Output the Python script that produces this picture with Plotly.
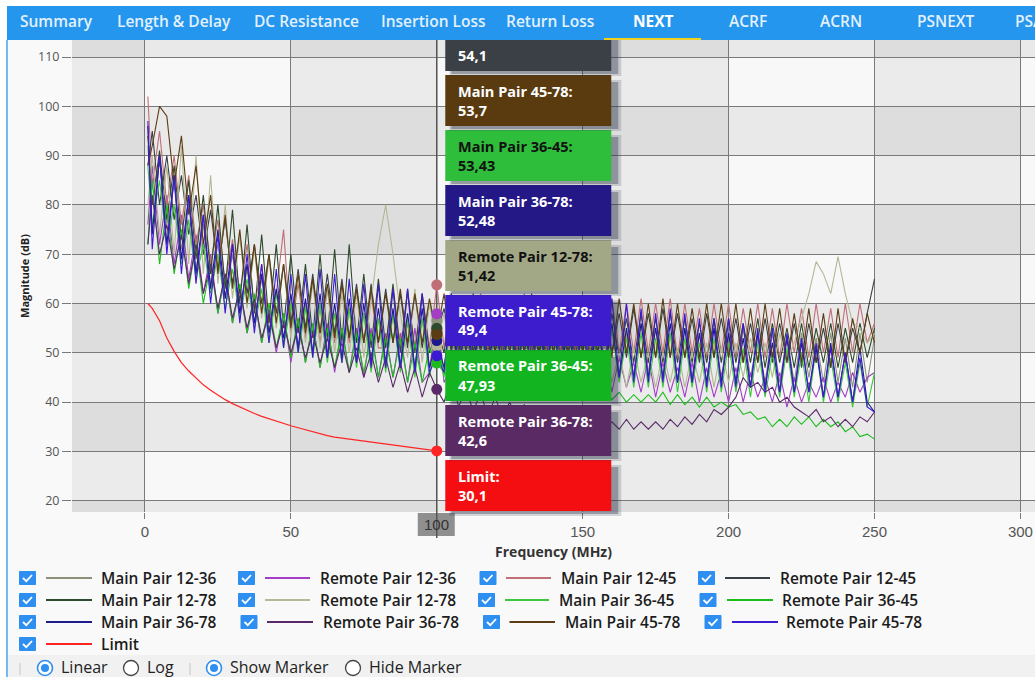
import plotly.graph_objects as go

# ---------------- data ----------------
FREQ = [1, 2.5, 5, 7.5, 10, 12.5, 15, 17.5, 20, 22.5,
        25, 27.5, 30, 32.5, 35, 37.5, 40, 42.5, 45, 47.5,
        50, 52.5, 55, 57.5, 60, 62.5, 65, 67.5, 70, 72.5,
        75, 77.5, 80, 82.5, 85, 87.5, 90, 92.5, 95, 97.5,
        100, 102.5, 105, 107.5, 110, 112.5, 115, 117.5, 120, 122.5,
        125, 127.5, 130, 132.5, 135, 137.5, 140, 142.5, 145, 147.5,
        150, 152.5, 155, 157.5, 160, 162.5, 165, 167.5, 170, 172.5,
        175, 177.5, 180, 182.5, 185, 187.5, 190, 192.5, 195, 197.5,
        200, 202.5, 205, 207.5, 210, 212.5, 215, 217.5, 220, 222.5,
        225, 227.5, 230, 232.5, 235, 237.5, 240, 242.5, 245, 247.5,
        250]

MAIN_12_36 = [92, 80, 89, 76, 84, 71, 80, 67, 76, 64,
              72, 61, 70, 58, 67, 56, 65, 54, 63, 52,
              61, 51, 60, 50, 59, 49, 58, 48, 59, 48,
              58, 47, 57, 47, 58, 47, 56, 46, 57, 47,
              56.5, 46, 56, 46, 57, 45, 56, 46, 55, 45,
              56, 45, 55, 46, 56, 45, 55, 45, 56, 45,
              55, 45, 56, 46, 55, 45, 54, 45, 56, 46,
              55, 45, 54, 44, 55, 45, 54, 44, 55, 45,
              54, 44, 55, 45, 53, 44, 54, 44, 53, 44,
              54, 45, 53, 44, 54, 44, 53, 43, 54, 44,
              53]

REMOTE_12_36 = [76, 88, 72, 82, 68, 78, 65, 74, 62, 70,
                58, 66, 56, 63, 54, 61, 52, 59, 50, 58,
                48, 57, 48, 56, 47, 56, 46, 55, 46, 55,
                45, 55, 45, 54, 45, 54, 44, 55, 44, 46,
                57.9, 44, 47, 54, 43, 53, 43, 53, 43, 52,
                42, 53, 42, 52, 42, 52, 42, 51, 42, 52,
                42, 51, 43, 50, 42, 49, 43, 48, 42, 49,
                41, 48, 42, 47, 41, 48, 40, 47, 41, 46,
                40, 47, 40, 46, 41, 45, 40, 46, 39, 45,
                40, 44, 41, 45, 40, 44, 41, 46, 42, 45,
                46]

MAIN_12_45 = [102, 84, 95, 80, 90, 76, 86, 72, 80, 68,
              77, 64, 73, 62, 72, 59, 68, 56, 62, 75,
              54, 64, 53, 65, 52, 63, 52, 64, 52, 63,
              52, 62, 51, 51, 63, 51, 62, 51, 62, 51,
              63.8, 51, 62, 51, 61, 50, 62, 50, 61, 50,
              61, 50, 62, 50, 61, 50, 60, 50, 61, 50,
              61, 50, 60, 51, 61, 50, 60, 50, 61, 50,
              60, 50, 61, 49, 60, 50, 59, 49, 60, 50,
              60, 49, 59, 50, 60, 49, 59, 49, 60, 50,
              59, 49, 60, 50, 59, 49, 60, 50, 60, 52,
              56]

REMOTE_12_45 = [88, 95, 80, 90, 77, 86, 74, 82, 70, 79,
                67, 77, 64, 74, 62, 72, 60, 70, 58, 68,
                56, 67, 55, 66, 54, 66, 54, 65, 53, 64,
                52, 64, 52, 63, 52, 62, 51, 62, 51, 60,
                54.1, 59, 50, 60, 50, 59, 50, 58, 50, 59,
                50, 58, 50, 59, 49, 58, 50, 58, 49, 59,
                50, 58, 49, 60, 50, 58, 49, 59, 49, 58,
                49, 59, 49, 58, 49, 57, 48, 58, 49, 57,
                49, 57, 48, 56, 48, 57, 48, 56, 48, 56,
                47, 56, 48, 55, 47, 56, 48, 55, 50, 58,
                65]

MAIN_12_78 = [94, 80, 91, 77, 88, 73, 85, 69, 82, 66,
              80, 63, 79, 60, 76, 58, 74, 56, 72, 55,
              70, 54, 68, 53, 70, 53, 71, 52, 72, 52,
              66, 51, 65, 51, 64, 50, 63, 50, 62, 50,
              55, 50, 60, 50, 59, 50, 58, 49, 59, 49,
              58, 49, 59, 49, 58, 49, 57, 49, 58, 49,
              58, 49, 57, 48, 58, 49, 57, 48, 58, 48,
              57, 48, 58, 48, 57, 48, 56, 48, 57, 48,
              57, 48, 56, 48, 57, 47, 56, 48, 55, 47,
              56, 47, 55, 48, 56, 47, 55, 48, 56, 49,
              55]

REMOTE_12_78 = [80, 90, 74, 88, 70, 92, 68, 90, 66, 86,
                64, 80, 61, 74, 59, 71, 57, 69, 55, 68,
                53, 66, 52, 64, 51, 63, 50, 62, 50, 62,
                49, 60, 72, 80, 70, 58, 49, 63, 48, 60,
                51.42, 58, 47, 57, 47, 57, 46, 56, 46, 56,
                46, 56, 45, 56, 45, 55, 45, 56, 45, 55,
                45, 55, 44, 52, 44, 50, 43, 51, 44, 50,
                43, 50, 44, 51, 43, 50, 44, 52, 43, 51,
                44, 52, 45, 53, 46, 52, 45, 54, 48, 52,
                57, 62, 68.5, 66, 62, 69.5, 62, 56, 55, 52,
                54]

MAIN_36_45 = [88, 76, 85, 72, 80, 68, 77, 65, 72, 62,
              70, 59, 67, 57, 65, 55, 63, 52, 62, 51,
              60, 50, 59, 49, 60, 48, 58, 48, 59, 47,
              58, 46, 57, 46, 58, 46, 57, 45, 57, 45,
              53.43, 45, 57, 45, 56, 44, 57, 44, 56, 44,
              56, 44, 55, 44, 56, 44, 55, 44, 56, 44,
              55, 44, 54, 45, 55, 44, 53, 43, 54, 43,
              53, 43, 54, 42, 53, 43, 52, 42, 53, 42,
              52, 42, 51, 41, 52, 41, 50, 41, 51, 41,
              50, 40, 51, 40, 49, 40, 48, 39, 48, 39,
              46]

REMOTE_36_45 = [72, 85, 68, 80, 66, 75, 63, 72, 60, 68,
                58, 66, 56, 64, 54, 62, 52, 60, 51, 58,
                49, 57, 48, 56, 47, 55, 47, 55, 46, 54,
                46, 54, 45, 53, 45, 53, 44, 52, 44, 51,
                47.93, 46, 45, 47, 44, 46, 44, 45, 43, 45,
                43, 45, 43, 44, 42, 44, 42, 43, 42, 43,
                42, 43, 41, 42.5, 40.5, 42, 40, 41.5, 40, 41.5,
                40, 42, 39.5, 41.5, 39.5, 41, 39, 41, 39, 40,
                39, 39.5, 37.5, 38, 36.5, 37, 35, 36.5, 35, 37,
                35.5, 37, 35, 36.5, 35, 36, 34, 35, 33, 33.5,
                32.5]

MAIN_36_78 = [96, 74, 90, 72, 86, 69, 82, 66, 78, 63,
              75, 61, 72, 58, 68, 56, 66, 54, 63, 53,
              62, 51, 61, 50, 62, 49, 60, 49, 61, 48,
              60, 48, 59, 48, 59, 47, 58, 47, 59, 47,
              52.48, 47, 58, 46, 57, 46, 58, 46, 57, 46,
              57, 46, 56, 46, 57, 46, 56, 45, 56, 45,
              56, 45, 57, 46, 56, 45, 55, 45, 56, 45,
              55, 45, 56, 44, 55, 44, 54, 44, 55, 44,
              54, 44, 53, 43, 54, 43, 52, 42, 53, 42,
              52, 42, 51, 41, 52, 41, 50, 40, 51, 40,
              38]

REMOTE_36_78 = [72, 82, 70, 76, 67, 74, 64, 72, 62, 68,
                59, 66, 57, 63, 55, 61, 53, 58, 51, 56,
                50, 55, 49, 54, 48, 53, 47, 52, 46, 51,
                45, 50, 44, 49, 43, 48, 42, 47, 41, 46,
                42.6, 40, 45, 39, 43, 38, 42, 37, 41, 37,
                40, 36.5, 39.5, 36, 39, 36, 38.5, 35.5, 38, 35,
                37.5, 35, 36.5, 34.5, 36, 34.5, 36.5, 34.5, 36, 34.5,
                36, 34.5, 36.5, 35, 37, 35.5, 37.5, 36, 38.5, 37.5,
                39, 41, 45, 43, 44, 42, 43, 40, 41, 39,
                38, 37, 38.5, 36, 37, 35, 36.5, 35, 37, 36,
                38]

MAIN_45_78 = [88, 92, 100, 98, 84, 94, 78, 88, 72, 82,
              66, 78, 63, 75, 60, 72, 58, 70, 56, 68,
              55, 66, 54, 65, 54, 64, 53, 64, 53, 63,
              52, 63, 52, 62, 52, 63, 52, 62, 52, 61,
              53.7, 62, 51, 61, 51, 62, 51, 61, 50, 61,
              50, 61, 50, 62, 50, 61, 50, 60, 50, 61,
              50, 61, 50, 60, 49, 61, 50, 60, 49, 60,
              49, 61, 49, 60, 49, 59, 49, 60, 49, 60,
              49, 60, 48, 59, 48, 60, 49, 59, 48, 58,
              48, 59, 48, 58, 47, 59, 48, 57, 50, 58,
              52]

REMOTE_45_78 = [97, 71, 90, 70, 86, 66, 82, 64, 78, 60,
                74, 58, 72, 56, 70, 54, 68, 52, 67, 51,
                66, 50, 66, 49, 67, 49, 66, 48, 65, 48,
                64, 47, 64, 47, 63, 47, 63, 46, 62, 46,
                49.4, 46, 62, 46, 61, 46, 61, 45, 60, 45,
                61, 45, 60, 45, 61, 45, 60, 45, 61, 45,
                60, 45, 61, 45, 61, 45, 60, 44, 59, 44,
                58, 44, 59, 44, 58, 44, 57, 43, 57, 43,
                57, 43, 56, 43, 55, 42, 55, 42, 54, 42,
                53, 42, 52, 41, 51, 41, 50, 40, 49, 39,
                38]

LIMIT_FREQ = FREQ[:41]
LIMIT = [60, 59, 56.5, 53, 50.3, 48, 46.3, 44.8, 43.5, 42.4,
         41.4, 40.5, 39.7, 39, 38.3, 37.7, 37.1, 36.6, 36.1, 35.6,
         35.2, 34.8, 34.4, 34, 33.5, 33.2, 32.9, 32.7, 32.5, 32.3,
         32.1, 31.9, 31.7, 31.5, 31.3, 31.1, 30.9, 30.7, 30.5, 30.3,
         30.1]

SERIES_NAMES = ["Main Pair 12-36", "Remote Pair 12-36", "Main Pair 12-45", "Remote Pair 12-45",
                "Main Pair 12-78", "Remote Pair 12-78", "Main Pair 36-45", "Remote Pair 36-45",
                "Main Pair 36-78", "Remote Pair 36-78", "Main Pair 45-78", "Remote Pair 45-78"]
SERIES_VALUES = [MAIN_12_36, REMOTE_12_36, MAIN_12_45, REMOTE_12_45,
                 MAIN_12_78, REMOTE_12_78, MAIN_36_45, REMOTE_36_45,
                 MAIN_36_78, REMOTE_36_78, MAIN_45_78, REMOTE_45_78]
LIMIT_NAME = "Limit"

CURSOR_FREQ = 100
CURSOR_VALUES = [56.5, 57.9, 63.8, 54.1, 55.0, 51.42, 53.43, 47.93, 52.48, 42.6, 53.7, 49.4]
LIMIT_AT_CURSOR = 30.1

X_TICKS = [0, 50, 100, 150, 200, 250, 300]
Y_TICKS = [20, 30, 40, 50, 60, 70, 80, 90, 100, 110]
NAV_TABS = ["Summary", "Length & Delay", "DC Resistance", "Insertion Loss", "Return Loss",
            "NEXT", "ACRF", "ACRN", "PSNEXT", "PSACRF"]
ACTIVE_TAB = "NEXT"
X_TITLE = "Frequency (MHz)"
Y_TITLE = "Magnitude (dB)"

# ---------------- styles ----------------
LINE_COLORS = ["#8c9279", "#a23fc6", "#bf6f76", "#3b4047",
               "#2e4a2c", "#b4b895", "#3cc83c", "#1cbc1c",
               "#1c1a8c", "#5a2a68", "#5c3c12", "#3c1ad2"]
LIMIT_COLOR = "#ff2424"
BOX_COLORS = ["#8c9279", "#a23fc6", "#bf6f76", "#3b4046",
              "#2e4a2c", "#a2a886", "#2fbe3c", "#12b420",
              "#231886", "#5a2a64", "#5a3b10", "#3c1ccc"]
LIMIT_BOX_COLOR = "#f40e12"
DARK_TEXT_BOXES = {"Main Pair 36-45", "Remote Pair 12-78"}

W, H = 1035, 677
ML, MR, MT, MB = 72, 0, 40, 165
PW, PH = W - ML - MR, H - MT - MB
XR = [-25, 305]
YR = [17.71, 113.45]


def X(px):
    return (px - ML) / PW


def Y(py):
    return (H - MB - py) / PH


fig = go.Figure()

for name, vals, col in zip(SERIES_NAMES, SERIES_VALUES, LINE_COLORS):
    fig.add_trace(go.Scatter(x=FREQ, y=vals, mode="lines", name=name,
                             line=dict(color=col, width=1.1), hoverinfo="skip", showlegend=False))
fig.add_trace(go.Scatter(x=LIMIT_FREQ, y=LIMIT, mode="lines", name=LIMIT_NAME,
                         line=dict(color=LIMIT_COLOR, width=1.2), hoverinfo="skip", showlegend=False))

all_names = SERIES_NAMES + [LIMIT_NAME]
all_vals = CURSOR_VALUES + [LIMIT_AT_CURSOR]
all_line_cols = LINE_COLORS + [LIMIT_COLOR]
all_box_cols = BOX_COLORS + [LIMIT_BOX_COLOR]

fig.add_trace(go.Scatter(x=[CURSOR_FREQ] * len(all_vals), y=all_vals, mode="markers",
                         marker=dict(size=11, color=all_line_cols, line=dict(width=0)),
                         hoverinfo="skip", showlegend=False))

shapes = []
ann = []

# background checkerboard bands
for x0 in [-25, 50, 150, 250]:
    shapes.append(dict(type="rect", xref="x", yref="y", x0=x0, x1=x0 + (25 if x0 < 0 else 50),
                       y0=YR[0], y1=YR[1], fillcolor="rgba(0,0,0,0.05)", line=dict(width=0), layer="below"))
for y0 in [10, 30, 50, 70, 90, 110]:
    shapes.append(dict(type="rect", xref="x", yref="y", x0=XR[0], x1=XR[1],
                       y0=max(y0, YR[0]), y1=min(y0 + 10, YR[1]),
                       fillcolor="rgba(0,0,0,0.06)", line=dict(width=0), layer="below"))

# cursor line
cur_px = ML + (CURSOR_FREQ - XR[0]) / (XR[1] - XR[0]) * PW
shapes.append(dict(type="line", xref="x", yref="y", x0=CURSOR_FREQ, x1=CURSOR_FREQ, y0=YR[0], y1=YR[1],
                   line=dict(color="#555555", width=1.5), layer="between"))
# cursor label box at bottom
shapes.append(dict(type="rect", xref="paper", yref="paper", x0=X(cur_px - 19), x1=X(cur_px + 18),
                   y0=Y(536), y1=Y(513), fillcolor="rgba(125,125,125,0.85)", line=dict(width=0), layer="above"))
ann.append(dict(xref="paper", yref="paper", x=X(cur_px), y=Y(524), text=str(CURSOR_FREQ), showarrow=False,
                font=dict(family="Liberation Sans Narrow, Arial Narrow, sans-serif", size=15, color="#333333"),
                xanchor="center", yanchor="middle"))
shapes.append(dict(type="line", xref="paper", yref="paper", x0=X(cur_px), x1=X(cur_px), y0=Y(538), y1=Y(512),
                   line=dict(color="#555555", width=1.5), layer="above"))

# tooltip stack
order = sorted(range(len(all_vals)), key=lambda i: all_vals[i])
bx0 = cur_px + 8.5
bx1 = bx0 + 166
for k, i in enumerate(order):
    top = 460 - 55 * k
    bot = top + 51
    if bot < MT:
        continue
    shapes.append(dict(type="rect", xref="paper", yref="paper", x0=X(bx0 + 4), x1=X(bx1 + 10),
                       y0=Y(bot + 5), y1=Y(top + 5), fillcolor="rgba(40,50,70,0.18)", line=dict(width=0),
                       layer="above"))
    shapes.append(dict(type="rect", xref="paper", yref="paper", x0=X(bx0 + 6), x1=X(bx1 + 7),
                       y0=Y(bot + 3), y1=Y(top + 7), fillcolor="rgba(40,50,70,0.35)", line=dict(width=0),
                       layer="above"))
    shapes.append(dict(type="rect", xref="paper", yref="paper", x0=X(bx0), x1=X(bx1),
                       y0=Y(bot), y1=Y(top), fillcolor=all_box_cols[i], line=dict(width=0), layer="above"))
    tcol = "#111111" if all_names[i] in DARK_TEXT_BOXES else "#ffffff"
    if top + 16 > MT + 6:
        ann.append(dict(xref="paper", yref="paper", x=X(bx0 + 11), y=Y(top + 16), text=all_names[i] + ":",
                        showarrow=False, xanchor="left", yanchor="middle",
                        font=dict(family="Open Sans, sans-serif", size=14.5, color=tcol, weight=700)))
    ann.append(dict(xref="paper", yref="paper", x=X(bx0 + 11), y=Y(top + 35),
                    text=str(all_vals[i]).replace(".", ","),
                    showarrow=False, xanchor="left", yanchor="middle",
                    font=dict(family="Open Sans, sans-serif", size=14.5, color=tcol, weight=700)))

# white page edges + nav bar
shapes.append(dict(type="rect", xref="paper", yref="paper", x0=X(-5), x1=X(W + 5), y0=Y(MT), y1=Y(-5),
                   fillcolor="#ffffff", line=dict(width=0), layer="above"))
shapes.append(dict(type="rect", xref="paper", yref="paper", x0=X(-5), x1=X(6), y0=Y(H + 5), y1=Y(-5),
                   fillcolor="#ffffff", line=dict(width=0), layer="above"))
shapes.append(dict(type="line", xref="paper", yref="paper", x0=X(7), x1=X(7), y0=Y(H + 5), y1=Y(MT),
                   line=dict(color="#4aa3f0", width=1.5), layer="above"))
shapes.append(dict(type="rect", xref="paper", yref="paper", x0=X(7), x1=X(W + 5), y0=Y(MT), y1=Y(6),
                   fillcolor="#2596ee", line=dict(width=0), layer="above"))
shapes.append(dict(type="rect", xref="paper", yref="paper", x0=X(604), x1=X(701), y0=Y(40), y1=Y(38),
                   fillcolor="#f0d020", line=dict(width=0), layer="above"))
NAV_X = [56, 174, 306, 433, 550, 653, 748, 841, 945, 1013]
for label, cx in zip(NAV_TABS, NAV_X):
    active = label == ACTIVE_TAB
    anchor = "left" if cx == NAV_X[-1] else "center"
    ann.append(dict(xref="paper", yref="paper", x=X(cx), y=Y(21), text=label, showarrow=False,
                    xanchor=anchor, yanchor="middle",
                    font=dict(family="Open Sans, sans-serif", size=15.5,
                              color="#ffffff" if active else "#e3f1fe", weight=700 if active else 600)))

# custom legend with checkboxes
LEG_ROWS = [578, 600, 622, 644]
LEG_POS = [  # (checkbox cx, line x0, line x1, text x)
    [(27.5, 46, 92, 99), (246.5, 265, 310, 318), (488, 506, 551, 559), (706.5, 725, 770, 778)],
    [(27.5, 46, 92, 99), (246.5, 265, 310, 318), (486.5, 505, 549, 557), (708, 727, 773, 780)],
    [(27.5, 46, 92, 99), (249, 267, 313, 321), (491.5, 509.5, 555, 563), (713, 732, 778, 784)],
    [(27.5, 46, 92, 99)],
]
idx = 0
for r, ry in enumerate(LEG_ROWS):
    for (cbx, lx0, lx1, tx) in LEG_POS[r]:
        name = all_names[idx]
        col = all_line_cols[idx]
        idx += 1
        shapes.append(dict(type="rect", xref="paper", yref="paper", x0=X(cbx - 8), x1=X(cbx + 8),
                           y0=Y(ry + 6.5), y1=Y(ry - 6.5), fillcolor="#2f8ff0",
                           line=dict(color="#2f8ff0", width=1), layer="above"))
        shapes.append(dict(type="path", xref="paper", yref="paper",
                           path=f"M {X(cbx - 4.5)},{Y(ry)} L {X(cbx - 1.2)},{Y(ry + 3.2)} L {X(cbx + 4.5)},{Y(ry - 3)}",
                           line=dict(color="#ffffff", width=1.8), layer="above"))
        shapes.append(dict(type="line", xref="paper", yref="paper", x0=X(lx0), x1=X(lx1), y0=Y(ry), y1=Y(ry),
                           line=dict(color=col, width=2), layer="above"))
        ann.append(dict(xref="paper", yref="paper", x=X(tx), y=Y(ry), text=name, showarrow=False,
                        xanchor="left", yanchor="middle",
                        font=dict(family="Open Sans, sans-serif", size=15.5, color="#1c1c1c", weight=600)))

# bottom toolbar
shapes.append(dict(type="rect", xref="paper", yref="paper", x0=X(8), x1=X(W + 5), y0=Y(H + 5), y1=Y(655),
                   fillcolor="#f1f1f1", line=dict(width=0), layer="above"))
for sx in [20, 190]:
    shapes.append(dict(type="line", xref="paper", yref="paper", x0=X(sx), x1=X(sx), y0=Y(675), y1=Y(663),
                       line=dict(color="#c4c4c4", width=1), layer="above"))
RADIOS = [("Linear", 45, True), ("Log", 131, False), ("Show Marker", 214, True), ("Hide Marker", 353, False)]
for label, rcx, sel in RADIOS:
    rcy = 668
    shapes.append(dict(type="circle", xref="paper", yref="paper", x0=X(rcx - 7.5), x1=X(rcx + 7.5),
                       y0=Y(rcy + 7.5), y1=Y(rcy - 7.5), fillcolor="#ffffff",
                       line=dict(color="#2f8ff0" if sel else "#444444", width=1.6 if sel else 1.3), layer="above"))
    if sel:
        shapes.append(dict(type="circle", xref="paper", yref="paper", x0=X(rcx - 4), x1=X(rcx + 4),
                           y0=Y(rcy + 4), y1=Y(rcy - 4), fillcolor="#2f8ff0", line=dict(width=0), layer="above"))
    ann.append(dict(xref="paper", yref="paper", x=X(rcx + 14), y=Y(667), text=label, showarrow=False,
                    xanchor="left", yanchor="middle",
                    font=dict(family="Open Sans, sans-serif", size=16, color="#222222", weight=500)))

x_ticktext = ["" if t == CURSOR_FREQ else str(t) for t in X_TICKS]

fig.update_layout(
    width=W, height=H, autosize=False,
    margin=dict(l=ML, r=MR, t=MT, b=MB, pad=0),
    paper_bgcolor="#f9f9f9", plot_bgcolor="#f8f8f8",
    showlegend=False, hovermode=False,
    shapes=shapes, annotations=ann,
    xaxis=dict(range=XR, tickvals=X_TICKS, ticktext=x_ticktext, showgrid=True, gridcolor="#7a7a7a", gridwidth=1,
               zeroline=False, showline=False, ticks="outside", ticklen=6, tickcolor="#7a7a7a",
               tickfont=dict(family="Liberation Sans Narrow, Arial Narrow, sans-serif", size=15, color="#555555"),
               title=dict(text=X_TITLE, standoff=8,
                          font=dict(family="Open Sans, sans-serif", size=14, color="#333333", weight=700)),
               fixedrange=True),
    yaxis=dict(range=YR, tickvals=Y_TICKS, showgrid=True, gridcolor="#7a7a7a", gridwidth=1,
               zeroline=False, showline=False, ticks="outside", ticklen=9, tickcolor="#7a7a7a",
               tickfont=dict(family="Open Sans, sans-serif", size=12.5, color="#555555"),
               title=dict(text=Y_TITLE, standoff=6,
                          font=dict(family="Open Sans, sans-serif", size=11, color="#222222", weight=700)),
               fixedrange=True),
)

fig.write_html("out.html", config={"displayModeBar": False, "staticPlot": False},
               post_script="document.body.style.margin='0';document.body.style.overflow='hidden';")
